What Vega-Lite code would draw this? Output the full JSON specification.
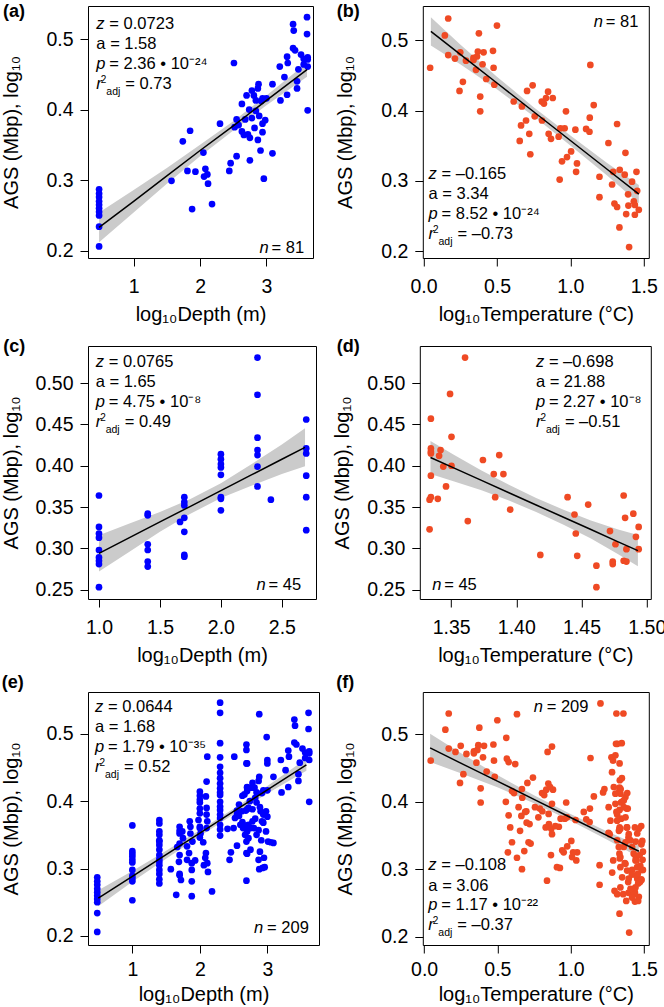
{
"$schema": "https://vega.github.io/schema/vega-lite/v6.json",
"padding": {"left": 0, "top": 2, "right": 0, "bottom": 0},
"spacing": 12,
"datasets": {
"depth": [
{"set":"A","x":0.48,"y":0.287},{"set":"A","x":0.48,"y":0.281},{"set":"A","x":0.48,"y":0.276},{"set":"A","x":0.48,"y":0.270},{"set":"A","x":0.48,"y":0.265},{"set":"A","x":0.48,"y":0.260},{"set":"A","x":0.48,"y":0.255},{"set":"A","x":0.48,"y":0.250},{"set":"A","x":0.48,"y":0.234},{"set":"A","x":0.48,"y":0.206},
{"set":"A","x":1.57,"y":0.299},{"set":"A","x":1.74,"y":0.355},{"set":"A","x":1.85,"y":0.370},{"set":"A","x":1.81,"y":0.313},{"set":"A","x":1.88,"y":0.259},{"set":"A","x":1.93,"y":0.312},{"set":"A","x":2.05,"y":0.339},{"set":"A","x":2.08,"y":0.316},{"set":"A","x":2.06,"y":0.305},{"set":"A","x":2.11,"y":0.308},
{"set":"A","x":2.12,"y":0.295},{"set":"A","x":2.18,"y":0.266},{"set":"A","x":2.30,"y":0.380},{"set":"A","x":2.44,"y":0.313},{"set":"A","x":2.46,"y":0.324},{"set":"A","x":2.51,"y":0.466},{"set":"A","x":2.55,"y":0.386},{"set":"A","x":2.55,"y":0.334},{"set":"A","x":2.52,"y":0.375},{"set":"A","x":2.58,"y":0.378},
{"set":"A","x":2.63,"y":0.369},{"set":"A","x":2.66,"y":0.364},{"set":"A","x":2.72,"y":0.365},{"set":"A","x":2.75,"y":0.360},{"set":"A","x":2.63,"y":0.408},{"set":"A","x":2.70,"y":0.420},{"set":"A","x":2.74,"y":0.400},{"set":"A","x":2.78,"y":0.427},{"set":"A","x":2.81,"y":0.420},{"set":"A","x":2.84,"y":0.413},
{"set":"A","x":2.88,"y":0.436},{"set":"A","x":2.87,"y":0.430},{"set":"A","x":2.92,"y":0.412},{"set":"A","x":2.94,"y":0.416},{"set":"A","x":2.89,"y":0.391},{"set":"A","x":2.82,"y":0.374},{"set":"A","x":2.87,"y":0.357},{"set":"A","x":2.75,"y":0.328},{"set":"A","x":2.91,"y":0.342},{"set":"A","x":2.94,"y":0.380},
{"set":"A","x":2.98,"y":0.385},{"set":"A","x":2.94,"y":0.368},{"set":"A","x":2.96,"y":0.302},{"set":"A","x":3.09,"y":0.338},{"set":"A","x":3.09,"y":0.436},{"set":"A","x":3.00,"y":0.416},{"set":"A","x":3.20,"y":0.461},{"set":"A","x":3.21,"y":0.413},{"set":"A","x":3.27,"y":0.446},{"set":"A","x":3.31,"y":0.475},
{"set":"A","x":3.32,"y":0.466},{"set":"A","x":3.31,"y":0.421},{"set":"A","x":3.40,"y":0.521},{"set":"A","x":3.41,"y":0.512},{"set":"A","x":3.40,"y":0.487},{"set":"A","x":3.43,"y":0.484},{"set":"A","x":3.46,"y":0.440},{"set":"A","x":3.46,"y":0.430},{"set":"A","x":3.48,"y":0.457},{"set":"A","x":3.52,"y":0.478},
{"set":"A","x":3.56,"y":0.472},{"set":"A","x":3.56,"y":0.464},{"set":"A","x":3.61,"y":0.531},{"set":"A","x":3.61,"y":0.507},{"set":"A","x":3.62,"y":0.474},{"set":"A","x":3.62,"y":0.471},{"set":"A","x":3.62,"y":0.461},{"set":"A","x":3.62,"y":0.399},{"set":"A","x":2.68,"y":0.386},{"set":"A","x":2.78,"y":0.388},
{"set":"A","x":2.84,"y":0.398},
{"set":"C","x":1.0,"y":0.364},{"set":"C","x":1.0,"y":0.326},{"set":"C","x":1.0,"y":0.318},{"set":"C","x":1.0,"y":0.313},{"set":"C","x":1.0,"y":0.298},{"set":"C","x":1.0,"y":0.289},{"set":"C","x":1.0,"y":0.285},{"set":"C","x":1.0,"y":0.281},{"set":"C","x":1.0,"y":0.253},
{"set":"C","x":1.4,"y":0.342},{"set":"C","x":1.4,"y":0.340},{"set":"C","x":1.4,"y":0.305},{"set":"C","x":1.4,"y":0.298},{"set":"C","x":1.4,"y":0.284},{"set":"C","x":1.4,"y":0.278},
{"set":"C","x":1.7,"y":0.362},{"set":"C","x":1.7,"y":0.356},{"set":"C","x":1.7,"y":0.352},{"set":"C","x":1.7,"y":0.337},{"set":"C","x":1.7,"y":0.320},{"set":"C","x":1.7,"y":0.292},{"set":"C","x":1.7,"y":0.290},{"set":"C","x":1.665,"y":0.332},
{"set":"C","x":2.0,"y":0.414},{"set":"C","x":2.0,"y":0.408},{"set":"C","x":2.0,"y":0.402},{"set":"C","x":2.0,"y":0.398},{"set":"C","x":2.0,"y":0.389},{"set":"C","x":2.0,"y":0.362},{"set":"C","x":2.0,"y":0.360},{"set":"C","x":2.0,"y":0.346},
{"set":"C","x":2.3,"y":0.531},{"set":"C","x":2.3,"y":0.486},{"set":"C","x":2.3,"y":0.434},{"set":"C","x":2.3,"y":0.419},{"set":"C","x":2.3,"y":0.413},{"set":"C","x":2.3,"y":0.399},{"set":"C","x":2.3,"y":0.375},{"set":"C","x":2.41,"y":0.359},
{"set":"C","x":2.7,"y":0.456},{"set":"C","x":2.7,"y":0.421},{"set":"C","x":2.7,"y":0.415},{"set":"C","x":2.7,"y":0.388},{"set":"C","x":2.7,"y":0.362},{"set":"C","x":2.7,"y":0.322},
{"set":"E","x":1.4,"y":0.367},{"set":"E","x":1.4,"y":0.355},{"set":"E","x":1.4,"y":0.335},{"set":"E","x":1.4,"y":0.328},{"set":"E","x":1.4,"y":0.320},{"set":"E","x":1.4,"y":0.314},{"set":"E","x":1.4,"y":0.310},{"set":"E","x":1.4,"y":0.292},
{"set":"E","x":1.65,"y":0.261},{"set":"E","x":1.72,"y":0.283},{"set":"E","x":1.69,"y":0.310},{"set":"E","x":1.75,"y":0.345},
{"set":"E","x":1.86,"y":0.362},{"set":"E","x":1.86,"y":0.352},{"set":"E","x":1.89,"y":0.340},{"set":"E","x":1.81,"y":0.333},{"set":"E","x":1.84,"y":0.323},{"set":"E","x":1.88,"y":0.308},{"set":"E","x":1.88,"y":0.298},{"set":"E","x":1.88,"y":0.281},
{"set":"E","x":2.0,"y":0.382},{"set":"E","x":2.01,"y":0.352},{"set":"E","x":1.98,"y":0.372},
{"set":"E","x":2.11,"y":0.466},{"set":"E","x":2.10,"y":0.429},{"set":"E","x":2.09,"y":0.407},{"set":"E","x":2.10,"y":0.390},{"set":"E","x":2.10,"y":0.380},{"set":"E","x":2.11,"y":0.370},{"set":"E","x":2.10,"y":0.360},{"set":"E","x":2.09,"y":0.323},
{"set":"E","x":2.3,"y":0.546},{"set":"E","x":2.3,"y":0.465},{"set":"E","x":2.3,"y":0.451},{"set":"E","x":2.3,"y":0.442},{"set":"E","x":2.3,"y":0.426},{"set":"E","x":2.3,"y":0.409},{"set":"E","x":2.3,"y":0.392},{"set":"E","x":2.3,"y":0.365},{"set":"E","x":2.3,"y":0.349},
{"set":"E","x":2.69,"y":0.484},{"set":"E","x":2.69,"y":0.476},{"set":"E","x":2.69,"y":0.456},{"set":"E","x":2.69,"y":0.340},{"set":"E","x":2.69,"y":0.323},{"set":"E","x":2.69,"y":0.282},{"set":"E","x":2.67,"y":0.350},{"set":"E","x":2.72,"y":0.345},{"set":"E","x":2.70,"y":0.355},
{"set":"E","x":2.88,"y":0.529},{"set":"E","x":2.87,"y":0.313},{"set":"E","x":2.88,"y":0.299},{"set":"E","x":2.93,"y":0.301},{"set":"E","x":2.89,"y":0.325},{"set":"E","x":2.95,"y":0.316},{"set":"E","x":2.98,"y":0.355},{"set":"E","x":3.0,"y":0.377},{"set":"E","x":2.99,"y":0.495},{"set":"E","x":3.0,"y":0.461},{"set":"E","x":3.0,"y":0.456},{"set":"E","x":3.01,"y":0.340},{"set":"E","x":3.05,"y":0.339},
{"set":"E","x":2.58,"y":0.395},{"set":"E","x":2.62,"y":0.385},{"set":"E","x":2.66,"y":0.41},{"set":"E","x":2.72,"y":0.39},{"set":"E","x":2.78,"y":0.37},{"set":"E","x":2.80,"y":0.36},{"set":"E","x":2.84,"y":0.35},{"set":"E","x":2.76,"y":0.42},{"set":"E","x":2.82,"y":0.405},{"set":"E","x":2.90,"y":0.385},{"set":"E","x":2.92,"y":0.37},{"set":"E","x":2.55,"y":0.38},{"set":"E","x":2.60,"y":0.365},{"set":"E","x":2.64,"y":0.36},{"set":"E","x":2.50,"y":0.36},
{"set":"E","x":1.0,"y":0.309},{"set":"E","x":1.0,"y":0.322},{"set":"E","x":1.4,"y":0.350},{"set":"E","x":1.4,"y":0.372},{"set":"E","x":2.3,"y":0.358},{"set":"E","x":2.3,"y":0.387}
],
"temp": [
{"set":"B","x":0.045,"y":0.461},{"set":"B","x":0.145,"y":0.507},{"set":"B","x":0.168,"y":0.531},{"set":"B","x":0.168,"y":0.479},{"set":"B","x":0.214,"y":0.474},{"set":"B","x":0.25,"y":0.483},{"set":"B","x":0.245,"y":0.428},{"set":"B","x":0.268,"y":0.441},{"set":"B","x":0.289,"y":0.471},{"set":"B","x":0.377,"y":0.510},
{"set":"B","x":0.34,"y":0.475},{"set":"B","x":0.364,"y":0.477},{"set":"B","x":0.37,"y":0.484},{"set":"B","x":0.357,"y":0.458},{"set":"B","x":0.386,"y":0.420},{"set":"B","x":0.386,"y":0.399},{"set":"B","x":0.402,"y":0.466},{"set":"B","x":0.409,"y":0.483},{"set":"B","x":0.427,"y":0.445},{"set":"B","x":0.473,"y":0.485},
{"set":"B","x":0.477,"y":0.461},{"set":"B","x":0.482,"y":0.437},{"set":"B","x":0.50,"y":0.521},{"set":"B","x":0.614,"y":0.413},{"set":"B","x":0.664,"y":0.379},{"set":"B","x":0.655,"y":0.357},{"set":"B","x":0.67,"y":0.406},{"set":"B","x":0.698,"y":0.386},{"set":"B","x":0.705,"y":0.428},{"set":"B","x":0.72,"y":0.367},
{"set":"B","x":0.727,"y":0.338},{"set":"B","x":0.743,"y":0.436},{"set":"B","x":0.757,"y":0.392},{"set":"B","x":0.805,"y":0.413},{"set":"B","x":0.807,"y":0.386},{"set":"B","x":0.82,"y":0.41},{"set":"B","x":0.834,"y":0.418},{"set":"B","x":0.848,"y":0.427},{"set":"B","x":0.852,"y":0.367},{"set":"B","x":0.868,"y":0.360},
{"set":"B","x":0.88,"y":0.418},{"set":"B","x":0.92,"y":0.363},{"set":"B","x":0.932,"y":0.375},{"set":"B","x":0.943,"y":0.328},{"set":"B","x":0.927,"y":0.302},{"set":"B","x":0.961,"y":0.375},{"set":"B","x":0.97,"y":0.399},{"set":"B","x":0.977,"y":0.334},{"set":"B","x":1.005,"y":0.342},{"set":"B","x":1.034,"y":0.373},
{"set":"B","x":1.039,"y":0.313},{"set":"B","x":1.045,"y":0.325},{"set":"B","x":1.107,"y":0.374},{"set":"B","x":1.13,"y":0.370},{"set":"B","x":1.132,"y":0.390},{"set":"B","x":1.136,"y":0.465},{"set":"B","x":1.159,"y":0.408},{"set":"B","x":1.198,"y":0.306},{"set":"B","x":1.198,"y":0.277},{"set":"B","x":1.259,"y":0.354},
{"set":"B","x":1.284,"y":0.295},{"set":"B","x":1.291,"y":0.313},{"set":"B","x":1.30,"y":0.268},{"set":"B","x":1.318,"y":0.263},{"set":"B","x":1.318,"y":0.381},{"set":"B","x":1.336,"y":0.316},{"set":"B","x":1.334,"y":0.234},{"set":"B","x":1.37,"y":0.309},{"set":"B","x":1.375,"y":0.340},{"set":"B","x":1.38,"y":0.253},
{"set":"B","x":1.395,"y":0.265},{"set":"B","x":1.40,"y":0.206},{"set":"B","x":1.42,"y":0.299},{"set":"B","x":1.432,"y":0.271},{"set":"B","x":1.439,"y":0.266},{"set":"B","x":1.439,"y":0.252},{"set":"B","x":1.45,"y":0.313},{"set":"B","x":1.455,"y":0.286},{"set":"B","x":1.466,"y":0.259},{"set":"B","x":1.393,"y":0.281},
{"set":"B","x":0.34,"y":0.472},
{"set":"D","x":1.3607,"y":0.531},{"set":"D","x":1.3492,"y":0.487},{"set":"D","x":1.3345,"y":0.457},{"set":"D","x":1.3345,"y":0.421},{"set":"D","x":1.3345,"y":0.417},{"set":"D","x":1.3345,"y":0.415},{"set":"D","x":1.3419,"y":0.419},{"set":"D","x":1.3408,"y":0.412},{"set":"D","x":1.3503,"y":0.435},{"set":"D","x":1.3440,"y":0.399},
{"set":"D","x":1.3503,"y":0.400},{"set":"D","x":1.3345,"y":0.388},{"set":"D","x":1.3461,"y":0.375},{"set":"D","x":1.3345,"y":0.362},{"set":"D","x":1.3335,"y":0.359},{"set":"D","x":1.3398,"y":0.360},{"set":"D","x":1.3335,"y":0.323},{"set":"D","x":1.3628,"y":0.333},{"set":"D","x":1.3744,"y":0.407},{"set":"D","x":1.3827,"y":0.390},
{"set":"D","x":1.3869,"y":0.413},{"set":"D","x":1.3901,"y":0.390},{"set":"D","x":1.3838,"y":0.362},{"set":"D","x":1.3953,"y":0.347},{"set":"D","x":1.4184,"y":0.292},{"set":"D","x":1.4393,"y":0.362},{"set":"D","x":1.4446,"y":0.341},{"set":"D","x":1.4456,"y":0.318},{"set":"D","x":1.4467,"y":0.291},{"set":"D","x":1.4551,"y":0.353},
{"set":"D","x":1.4614,"y":0.279},{"set":"D","x":1.4614,"y":0.253},{"set":"D","x":1.4718,"y":0.321},{"set":"D","x":1.4739,"y":0.284},{"set":"D","x":1.4739,"y":0.281},{"set":"D","x":1.4760,"y":0.305},{"set":"D","x":1.4823,"y":0.364},{"set":"D","x":1.4834,"y":0.337},{"set":"D","x":1.4823,"y":0.285},{"set":"D","x":1.4844,"y":0.284},
{"set":"D","x":1.4844,"y":0.299},{"set":"D","x":1.4897,"y":0.342},{"set":"D","x":1.4917,"y":0.314},{"set":"D","x":1.4938,"y":0.299},{"set":"D","x":1.4938,"y":0.326},
{"set":"F","x":0.561,"y":0.495},{"set":"F","x":0.565,"y":0.464},{"set":"F","x":0.577,"y":0.459},{"set":"F","x":0.622,"y":0.456},{"set":"F","x":0.634,"y":0.530},{"set":"F","x":0.60,"y":0.416},{"set":"F","x":0.558,"y":0.400},{"set":"F","x":0.577,"y":0.380},{"set":"F","x":0.588,"y":0.362},{"set":"F","x":0.60,"y":0.340},
{"set":"F","x":0.572,"y":0.325},{"set":"F","x":0.634,"y":0.317},{"set":"F","x":0.668,"y":0.300},{"set":"F","x":0.684,"y":0.327},{"set":"F","x":0.70,"y":0.369},{"set":"F","x":0.69,"y":0.385},{"set":"F","x":0.713,"y":0.340},{"set":"F","x":0.645,"y":0.392},{"set":"F","x":0.668,"y":0.419},{"set":"F","x":0.78,"y":0.377},
{"set":"F","x":0.79,"y":0.39},{"set":"F","x":0.83,"y":0.362},{"set":"F","x":0.839,"y":0.283},{"set":"F","x":0.843,"y":0.474},{"set":"F","x":0.873,"y":0.482},{"set":"F","x":0.86,"y":0.422},{"set":"F","x":0.873,"y":0.397},{"set":"F","x":0.85,"y":0.382},{"set":"F","x":0.873,"y":0.352},{"set":"F","x":0.866,"y":0.321},
{"set":"F","x":0.896,"y":0.364},{"set":"F","x":0.907,"y":0.303},{"set":"F","x":0.953,"y":0.325},{"set":"F","x":0.976,"y":0.377},{"set":"F","x":1.01,"y":0.318},{"set":"F","x":1.017,"y":0.325},{"set":"F","x":1.09,"y":0.385},{"set":"F","x":1.222,"y":0.414},{"set":"F","x":1.231,"y":0.419},{"set":"F","x":1.26,"y":0.392},
{"set":"F","x":1.272,"y":0.372},{"set":"F","x":1.267,"y":0.352},{"set":"F","x":1.283,"y":0.444},{"set":"F","x":1.279,"y":0.466},{"set":"F","x":1.29,"y":0.461},{"set":"F","x":1.306,"y":0.469},{"set":"F","x":1.31,"y":0.486},{"set":"F","x":1.32,"y":0.486},{"set":"F","x":1.313,"y":0.531},{"set":"F","x":1.204,"y":0.546},
{"set":"F","x":1.295,"y":0.422},{"set":"F","x":1.306,"y":0.412},{"set":"F","x":1.306,"y":0.397},{"set":"F","x":1.313,"y":0.385},{"set":"F","x":1.318,"y":0.372},{"set":"F","x":1.33,"y":0.357},{"set":"F","x":1.318,"y":0.343},{"set":"F","x":1.329,"y":0.333},{"set":"F","x":1.34,"y":0.318},{"set":"F","x":1.34,"y":0.303},
{"set":"F","x":1.352,"y":0.288},{"set":"F","x":1.34,"y":0.273},{"set":"F","x":1.359,"y":0.263},{"set":"F","x":1.336,"y":0.432},{"set":"F","x":1.363,"y":0.402},{"set":"F","x":1.363,"y":0.392},{"set":"F","x":1.375,"y":0.377},{"set":"F","x":1.386,"y":0.362},{"set":"F","x":1.397,"y":0.352},{"set":"F","x":1.409,"y":0.343},
{"set":"F","x":1.42,"y":0.333},{"set":"F","x":1.431,"y":0.323},{"set":"F","x":1.443,"y":0.313},{"set":"F","x":1.454,"y":0.303},{"set":"F","x":1.459,"y":0.293},{"set":"F","x":1.443,"y":0.273},{"set":"F","x":1.431,"y":0.263},{"set":"F","x":1.375,"y":0.308},{"set":"F","x":1.386,"y":0.298},{"set":"F","x":1.397,"y":0.286},
{"set":"F","x":1.409,"y":0.271},{"set":"F","x":1.42,"y":0.258},{"set":"F","x":1.466,"y":0.36}
],
"fit": [
{"set":"a","x":0.48,"y":0.233,"lo":0.212,"hi":0.254},{"set":"a","x":1.0,"y":0.270,"lo":0.254,"hi":0.286},{"set":"a","x":1.5,"y":0.306,"lo":0.295,"hi":0.317},{"set":"a","x":2.0,"y":0.342,"lo":0.334,"hi":0.350},{"set":"a","x":2.5,"y":0.377,"lo":0.3705,"hi":0.3835},{"set":"a","x":3.0,"y":0.413,"lo":0.406,"hi":0.420},{"set":"a","x":3.61,"y":0.4565,"lo":0.4465,"hi":0.4665},
{"set":"b","x":0.05,"y":0.5128,"lo":0.4928,"hi":0.5328},{"set":"b","x":0.25,"y":0.4801,"lo":0.4661,"hi":0.4941},{"set":"b","x":0.5,"y":0.4393,"lo":0.4303,"hi":0.4483},{"set":"b","x":0.75,"y":0.3984,"lo":0.3919,"hi":0.4049},{"set":"b","x":1.0,"y":0.3576,"lo":0.3506,"hi":0.3646},{"set":"b","x":1.25,"y":0.3167,"lo":0.3077,"hi":0.3257},{"set":"b","x":1.466,"y":0.2814,"lo":0.2684,"hi":0.2944},
{"set":"c","x":1.0,"y":0.294,"lo":0.272,"hi":0.316},{"set":"c","x":1.25,"y":0.313,"lo":0.296,"hi":0.330},{"set":"c","x":1.5,"y":0.332,"lo":0.320,"hi":0.344},{"set":"c","x":1.75,"y":0.3509,"lo":0.3419,"hi":0.3599},{"set":"c","x":2.0,"y":0.3699,"lo":0.3609,"hi":0.3789},{"set":"c","x":2.25,"y":0.3889,"lo":0.3759,"hi":0.4019},{"set":"c","x":2.5,"y":0.4079,"lo":0.3899,"hi":0.4259},{"set":"c","x":2.69,"y":0.4223,"lo":0.3993,"hi":0.4453},
{"set":"d","x":1.3342,"y":0.410,"lo":0.390,"hi":0.430},{"set":"d","x":1.3524,"y":0.3971,"lo":0.3811,"hi":0.4131},{"set":"d","x":1.3733,"y":0.3823,"lo":0.3703,"hi":0.3943},{"set":"d","x":1.3943,"y":0.3674,"lo":0.3579,"hi":0.3769},{"set":"d","x":1.4152,"y":0.3525,"lo":0.344,"hi":0.361},{"set":"d","x":1.4362,"y":0.3377,"lo":0.3287,"hi":0.3467},{"set":"d","x":1.4572,"y":0.3228,"lo":0.3118,"hi":0.3338},{"set":"d","x":1.4781,"y":0.3079,"lo":0.2929,"hi":0.3229},{"set":"d","x":1.4932,"y":0.2972,"lo":0.2782,"hi":0.3162},
{"set":"e","x":0.496,"y":0.256,"lo":0.244,"hi":0.268},{"set":"e","x":1.0,"y":0.2884,"lo":0.2804,"hi":0.2964},{"set":"e","x":1.5,"y":0.3205,"lo":0.3145,"hi":0.3265},{"set":"e","x":2.0,"y":0.3526,"lo":0.3481,"hi":0.3571},{"set":"e","x":2.5,"y":0.3847,"lo":0.3807,"hi":0.3887},{"set":"e","x":3.0,"y":0.4168,"lo":0.4113,"hi":0.4223},{"set":"e","x":3.578,"y":0.4539,"lo":0.4449,"hi":0.4629},
{"set":"f","x":0.041,"y":0.480,"lo":0.459,"hi":0.501},{"set":"f","x":0.25,"y":0.4575,"lo":0.4425,"hi":0.4725},{"set":"f","x":0.5,"y":0.4306,"lo":0.4216,"hi":0.4396},{"set":"f","x":0.75,"y":0.4037,"lo":0.3977,"hi":0.4097},{"set":"f","x":1.0,"y":0.3768,"lo":0.3718,"hi":0.3818},{"set":"f","x":1.25,"y":0.3499,"lo":0.3439,"hi":0.3559},{"set":"f","x":1.466,"y":0.3267,"lo":0.3177,"hi":0.3357}
]
},
"vconcat": [
{"spacing": 20.8, "hconcat": [
{
"width": 225, "height": 252,
"layer": [
{"data": {"name": "fit"}, "transform": [{"filter": {"field": "set", "equal": "a"}}], "mark": "area",
 "encoding": {"x": {"field": "x", "type": "quantitative", "scale": {"domain": [0.313, 3.7], "nice": false, "zero": false}, "axis": {"values": [1, 2, 3], "format": ".0f", "title": "log₁₀Depth (m)"}},
 "y": {"field": "lo", "type": "quantitative", "scale": {"domain": [0.1896, 0.5468], "nice": false, "zero": false}, "axis": {"values": [0.2, 0.3, 0.4, 0.5], "format": ".1f", "title": "AGS (Mbp),  log₁₀"}},
 "y2": {"field": "hi"}}},
{"data": {"name": "depth"}, "transform": [{"filter": {"field": "set", "equal": "A"}}], "mark": {"type": "circle", "color": "#0000ff"},
 "encoding": {"x": {"field": "x", "type": "quantitative"}, "y": {"field": "y", "type": "quantitative"}}},
{"data": {"name": "fit"}, "transform": [{"filter": {"field": "set", "equal": "a"}}], "mark": "line",
 "encoding": {"x": {"field": "x", "type": "quantitative"}, "y": {"field": "y", "type": "quantitative"}}},
{"data": {"values": [{}]}, "layer": [
 {"mark": {"type": "text", "fontWeight": "bold", "fontSize": 18}, "encoding": {"x": {"datum": -0.965}, "y": {"datum": 0.5308}, "text": {"value": "(a)"}}},
 {"mark": {"type": "text", "fontStyle": "italic"}, "encoding": {"x": {"datum": 0.439}, "y": {"datum": 0.5148}, "text": {"value": "z"}}},
 {"mark": {"type": "text", "dx": 13}, "encoding": {"x": {"datum": 0.439}, "y": {"datum": 0.5148}, "text": {"value": "= 0.0723"}}},
 {"mark": {"type": "text"}, "encoding": {"x": {"datum": 0.439}, "y": {"datum": 0.4858}, "text": {"value": "a = 1.58"}}},
 {"mark": {"type": "text", "fontStyle": "italic"}, "encoding": {"x": {"datum": 0.439}, "y": {"datum": 0.4570}, "text": {"value": "p"}}},
 {"mark": {"type": "text", "dx": 13}, "encoding": {"x": {"datum": 0.439}, "y": {"datum": 0.4570}, "text": {"value": "= 2.36 • 10⁻²⁴"}}},
 {"mark": {"type": "text", "fontStyle": "italic"}, "encoding": {"x": {"datum": 0.439}, "y": {"datum": 0.4285}, "text": {"value": "r"}}},
 {"mark": {"type": "text", "dx": 4.5, "dy": -6, "fontSize": 10}, "encoding": {"x": {"datum": 0.439}, "y": {"datum": 0.4285}, "text": {"value": "2"}}},
 {"mark": {"type": "text", "dx": 10, "dy": 6, "fontSize": 10.5}, "encoding": {"x": {"datum": 0.439}, "y": {"datum": 0.4285}, "text": {"value": "adj"}}},
 {"mark": {"type": "text", "dx": 29}, "encoding": {"x": {"datum": 0.439}, "y": {"datum": 0.4285}, "text": {"value": "= 0.73"}}},
 {"mark": {"type": "text", "fontStyle": "italic"}, "encoding": {"x": {"datum": 2.895}, "y": {"datum": 0.1965}, "text": {"value": "n"}}},
 {"mark": {"type": "text", "dx": 12}, "encoding": {"x": {"datum": 2.895}, "y": {"datum": 0.1965}, "text": {"value": "= 81"}}}
]}
]
},
{
"width": 226, "height": 252,
"layer": [
{"data": {"name": "fit"}, "transform": [{"filter": {"field": "set", "equal": "b"}}], "mark": "area",
 "encoding": {"x": {"field": "x", "type": "quantitative", "scale": {"domain": [-0.005, 1.534], "nice": false, "zero": false}, "axis": {"values": [0, 0.5, 1, 1.5], "format": ".1f", "title": "log₁₀Temperature (°C)"}},
 "y": {"field": "lo", "type": "quantitative", "scale": {"domain": [0.1905, 0.5488], "nice": false, "zero": false}, "axis": {"values": [0.2, 0.3, 0.4, 0.5], "format": ".1f", "title": "AGS (Mbp),  log₁₀"}},
 "y2": {"field": "hi"}}},
{"data": {"name": "temp"}, "transform": [{"filter": {"field": "set", "equal": "B"}}], "mark": {"type": "circle", "color": "#ef4a24"},
 "encoding": {"x": {"field": "x", "type": "quantitative"}, "y": {"field": "y", "type": "quantitative"}}},
{"data": {"name": "fit"}, "transform": [{"filter": {"field": "set", "equal": "b"}}], "mark": "line",
 "encoding": {"x": {"field": "x", "type": "quantitative"}, "y": {"field": "y", "type": "quantitative"}}},
{"data": {"values": [{}]}, "layer": [
 {"mark": {"type": "text", "fontWeight": "bold", "fontSize": 18}, "encoding": {"x": {"datum": -0.591}, "y": {"datum": 0.5327}, "text": {"value": "(b)"}}},
 {"mark": {"type": "text", "fontStyle": "italic"}, "encoding": {"x": {"datum": 0.034}, "y": {"datum": 0.3028}, "text": {"value": "z"}}},
 {"mark": {"type": "text", "dx": 13}, "encoding": {"x": {"datum": 0.034}, "y": {"datum": 0.3028}, "text": {"value": "= –0.165"}}},
 {"mark": {"type": "text"}, "encoding": {"x": {"datum": 0.034}, "y": {"datum": 0.2743}, "text": {"value": "a = 3.34"}}},
 {"mark": {"type": "text", "fontStyle": "italic"}, "encoding": {"x": {"datum": 0.034}, "y": {"datum": 0.2459}, "text": {"value": "p"}}},
 {"mark": {"type": "text", "dx": 13}, "encoding": {"x": {"datum": 0.034}, "y": {"datum": 0.2459}, "text": {"value": "= 8.52 • 10⁻²⁴"}}},
 {"mark": {"type": "text", "fontStyle": "italic"}, "encoding": {"x": {"datum": 0.034}, "y": {"datum": 0.218}, "text": {"value": "r"}}},
 {"mark": {"type": "text", "dx": 4.5, "dy": -6, "fontSize": 10}, "encoding": {"x": {"datum": 0.034}, "y": {"datum": 0.218}, "text": {"value": "2"}}},
 {"mark": {"type": "text", "dx": 10, "dy": 6, "fontSize": 10.5}, "encoding": {"x": {"datum": 0.034}, "y": {"datum": 0.218}, "text": {"value": "adj"}}},
 {"mark": {"type": "text", "dx": 29}, "encoding": {"x": {"datum": 0.034}, "y": {"datum": 0.218}, "text": {"value": "= –0.73"}}},
 {"mark": {"type": "text", "fontStyle": "italic"}, "encoding": {"x": {"datum": 1.159}, "y": {"datum": 0.5185}, "text": {"value": "n"}}},
 {"mark": {"type": "text", "dx": 12}, "encoding": {"x": {"datum": 1.159}, "y": {"datum": 0.5185}, "text": {"value": "= 81"}}}
]}
]
}
]},
{"spacing": 7, "vconcat": [
{"spacing": 14.8, "hconcat": [
{
"width": 228, "height": 253,
"layer": [
{"data": {"name": "fit"}, "transform": [{"filter": {"field": "set", "equal": "c"}}], "mark": "area",
 "encoding": {"x": {"field": "x", "type": "quantitative", "scale": {"domain": [0.91, 2.78], "nice": false, "zero": false}, "axis": {"values": [1, 1.5, 2, 2.5], "format": ".1f", "title": "log₁₀Depth (m)"}},
 "y": {"field": "lo", "type": "quantitative", "scale": {"domain": [0.2387, 0.545], "nice": false, "zero": false}, "axis": {"values": [0.25, 0.3, 0.35, 0.4, 0.45, 0.5], "format": ".2f", "title": "AGS (Mbp),  log₁₀"}},
 "y2": {"field": "hi"}}},
{"data": {"name": "depth"}, "transform": [{"filter": {"field": "set", "equal": "C"}}], "mark": {"type": "circle", "color": "#0000ff"},
 "encoding": {"x": {"field": "x", "type": "quantitative"}, "y": {"field": "y", "type": "quantitative"}}},
{"data": {"name": "fit"}, "transform": [{"filter": {"field": "set", "equal": "c"}}], "mark": "line",
 "encoding": {"x": {"field": "x", "type": "quantitative"}, "y": {"field": "y", "type": "quantitative"}}},
{"data": {"values": [{}]}, "layer": [
 {"mark": {"type": "text", "fontWeight": "bold", "fontSize": 18}, "encoding": {"x": {"datum": 0.2144}, "y": {"datum": 0.5373}, "text": {"value": "(c)"}}},
 {"mark": {"type": "text", "fontStyle": "italic"}, "encoding": {"x": {"datum": 0.973}, "y": {"datum": 0.5201}, "text": {"value": "z"}}},
 {"mark": {"type": "text", "dx": 13}, "encoding": {"x": {"datum": 0.973}, "y": {"datum": 0.5201}, "text": {"value": "= 0.0765"}}},
 {"mark": {"type": "text"}, "encoding": {"x": {"datum": 0.973}, "y": {"datum": 0.4959}, "text": {"value": "a = 1.65"}}},
 {"mark": {"type": "text", "fontStyle": "italic"}, "encoding": {"x": {"datum": 0.973}, "y": {"datum": 0.4713}, "text": {"value": "p"}}},
 {"mark": {"type": "text", "dx": 13}, "encoding": {"x": {"datum": 0.973}, "y": {"datum": 0.4713}, "text": {"value": "= 4.75 • 10⁻⁸"}}},
 {"mark": {"type": "text", "fontStyle": "italic"}, "encoding": {"x": {"datum": 0.973}, "y": {"datum": 0.4475}, "text": {"value": "r"}}},
 {"mark": {"type": "text", "dx": 4.5, "dy": -6, "fontSize": 10}, "encoding": {"x": {"datum": 0.973}, "y": {"datum": 0.4475}, "text": {"value": "2"}}},
 {"mark": {"type": "text", "dx": 10, "dy": 6, "fontSize": 10.5}, "encoding": {"x": {"datum": 0.973}, "y": {"datum": 0.4475}, "text": {"value": "adj"}}},
 {"mark": {"type": "text", "dx": 29}, "encoding": {"x": {"datum": 0.973}, "y": {"datum": 0.4475}, "text": {"value": "= 0.49"}}},
 {"mark": {"type": "text", "fontStyle": "italic"}, "encoding": {"x": {"datum": 2.293}, "y": {"datum": 0.2496}, "text": {"value": "n"}}},
 {"mark": {"type": "text", "dx": 12}, "encoding": {"x": {"datum": 2.293}, "y": {"datum": 0.2496}, "text": {"value": "= 45"}}}
]}
]
},
{
"width": 231, "height": 253,
"layer": [
{"data": {"name": "fit"}, "transform": [{"filter": {"field": "set", "equal": "d"}}], "mark": "area",
 "encoding": {"x": {"field": "x", "type": "quantitative", "scale": {"domain": [1.326, 1.5031], "nice": false, "zero": false}, "axis": {"values": [1.35, 1.4, 1.45, 1.5], "format": ".2f", "title": "log₁₀Temperature (°C)"}},
 "y": {"field": "lo", "type": "quantitative", "scale": {"domain": [0.2387, 0.545], "nice": false, "zero": false}, "axis": {"values": [0.25, 0.3, 0.35, 0.4, 0.45, 0.5], "format": ".2f", "title": "AGS (Mbp),  log₁₀"}},
 "y2": {"field": "hi"}}},
{"data": {"name": "temp"}, "transform": [{"filter": {"field": "set", "equal": "D"}}], "mark": {"type": "circle", "color": "#ef4a24"},
 "encoding": {"x": {"field": "x", "type": "quantitative"}, "y": {"field": "y", "type": "quantitative"}}},
{"data": {"name": "fit"}, "transform": [{"filter": {"field": "set", "equal": "d"}}], "mark": "line",
 "encoding": {"x": {"field": "x", "type": "quantitative"}, "y": {"field": "y", "type": "quantitative"}}},
{"data": {"values": [{}]}, "layer": [
 {"mark": {"type": "text", "fontWeight": "bold", "fontSize": 18}, "encoding": {"x": {"datum": 1.2623}, "y": {"datum": 0.5373}, "text": {"value": "(d)"}}},
 {"mark": {"type": "text", "fontStyle": "italic"}, "encoding": {"x": {"datum": 1.415}, "y": {"datum": 0.5201}, "text": {"value": "z"}}},
 {"mark": {"type": "text", "dx": 13}, "encoding": {"x": {"datum": 1.415}, "y": {"datum": 0.5201}, "text": {"value": "= –0.698"}}},
 {"mark": {"type": "text"}, "encoding": {"x": {"datum": 1.415}, "y": {"datum": 0.4959}, "text": {"value": "a = 21.88"}}},
 {"mark": {"type": "text", "fontStyle": "italic"}, "encoding": {"x": {"datum": 1.415}, "y": {"datum": 0.4713}, "text": {"value": "p"}}},
 {"mark": {"type": "text", "dx": 13}, "encoding": {"x": {"datum": 1.415}, "y": {"datum": 0.4713}, "text": {"value": "= 2.27 • 10⁻⁸"}}},
 {"mark": {"type": "text", "fontStyle": "italic"}, "encoding": {"x": {"datum": 1.415}, "y": {"datum": 0.4475}, "text": {"value": "r"}}},
 {"mark": {"type": "text", "dx": 4.5, "dy": -6, "fontSize": 10}, "encoding": {"x": {"datum": 1.415}, "y": {"datum": 0.4475}, "text": {"value": "2"}}},
 {"mark": {"type": "text", "dx": 10, "dy": 6, "fontSize": 10.5}, "encoding": {"x": {"datum": 1.415}, "y": {"datum": 0.4475}, "text": {"value": "adj"}}},
 {"mark": {"type": "text", "dx": 29}, "encoding": {"x": {"datum": 1.415}, "y": {"datum": 0.4475}, "text": {"value": "= –0.51"}}},
 {"mark": {"type": "text", "fontStyle": "italic"}, "encoding": {"x": {"datum": 1.3355}, "y": {"datum": 0.2496}, "text": {"value": "n"}}},
 {"mark": {"type": "text", "dx": 12}, "encoding": {"x": {"datum": 1.3355}, "y": {"datum": 0.2496}, "text": {"value": "= 45"}}}
]}
]
}
]},
{"spacing": 14.8, "hconcat": [
{
"width": 231, "height": 253,
"layer": [
{"data": {"name": "fit"}, "transform": [{"filter": {"field": "set", "equal": "e"}}], "mark": "area",
 "encoding": {"x": {"field": "x", "type": "quantitative", "scale": {"domain": [0.343, 3.765], "nice": false, "zero": false}, "axis": {"values": [1, 2, 3], "format": ".0f", "title": "log₁₀Depth (m)", "labelPadding": 7, "minExtent": 39, "maxExtent": 39}},
 "y": {"field": "lo", "type": "quantitative", "scale": {"domain": [0.1866, 0.5619], "nice": false, "zero": false}, "axis": {"values": [0.2, 0.3, 0.4, 0.5], "format": ".1f", "title": "AGS (Mbp),  log₁₀"}},
 "y2": {"field": "hi"}}},
{"data": {"name": "depth"}, "mark": {"type": "circle", "color": "#0000ff"},
 "encoding": {"x": {"field": "x", "type": "quantitative"}, "y": {"field": "y", "type": "quantitative"}}},
{"data": {"name": "fit"}, "transform": [{"filter": {"field": "set", "equal": "e"}}], "mark": "line",
 "encoding": {"x": {"field": "x", "type": "quantitative"}, "y": {"field": "y", "type": "quantitative"}}},
{"data": {"values": [{}]}, "layer": [
 {"mark": {"type": "text", "fontWeight": "bold", "fontSize": 18}, "encoding": {"x": {"datum": -0.935}, "y": {"datum": 0.5676}, "text": {"value": "(e)"}}},
 {"mark": {"type": "text", "fontStyle": "italic"}, "encoding": {"x": {"datum": 0.447}, "y": {"datum": 0.5316}, "text": {"value": "z"}}},
 {"mark": {"type": "text", "dx": 13}, "encoding": {"x": {"datum": 0.447}, "y": {"datum": 0.5316}, "text": {"value": "= 0.0644"}}},
 {"mark": {"type": "text"}, "encoding": {"x": {"datum": 0.447}, "y": {"datum": 0.5019}, "text": {"value": "a = 1.68"}}},
 {"mark": {"type": "text", "fontStyle": "italic"}, "encoding": {"x": {"datum": 0.447}, "y": {"datum": 0.4722}, "text": {"value": "p"}}},
 {"mark": {"type": "text", "dx": 13}, "encoding": {"x": {"datum": 0.447}, "y": {"datum": 0.4722}, "text": {"value": "= 1.79 • 10⁻³⁵"}}},
 {"mark": {"type": "text", "fontStyle": "italic"}, "encoding": {"x": {"datum": 0.447}, "y": {"datum": 0.4431}, "text": {"value": "r"}}},
 {"mark": {"type": "text", "dx": 4.5, "dy": -6, "fontSize": 10}, "encoding": {"x": {"datum": 0.447}, "y": {"datum": 0.4431}, "text": {"value": "2"}}},
 {"mark": {"type": "text", "dx": 10, "dy": 6, "fontSize": 10.5}, "encoding": {"x": {"datum": 0.447}, "y": {"datum": 0.4431}, "text": {"value": "adj"}}},
 {"mark": {"type": "text", "dx": 29}, "encoding": {"x": {"datum": 0.447}, "y": {"datum": 0.4431}, "text": {"value": "= 0.52"}}},
 {"mark": {"type": "text", "fontStyle": "italic"}, "encoding": {"x": {"datum": 2.803}, "y": {"datum": 0.2049}, "text": {"value": "n"}}},
 {"mark": {"type": "text", "dx": 13}, "encoding": {"x": {"datum": 2.803}, "y": {"datum": 0.2049}, "text": {"value": "= 209"}}}
]}
]
},
{
"width": 226, "height": 253,
"layer": [
{"data": {"name": "fit"}, "transform": [{"filter": {"field": "set", "equal": "f"}}], "mark": "area",
 "encoding": {"x": {"field": "x", "type": "quantitative", "scale": {"domain": [-0.009, 1.534], "nice": false, "zero": false}, "axis": {"values": [0, 0.5, 1, 1.5], "format": ".1f", "title": "log₁₀Temperature (°C)", "labelPadding": 7, "minExtent": 39, "maxExtent": 39}},
 "y": {"field": "lo", "type": "quantitative", "scale": {"domain": [0.1876, 0.5629], "nice": false, "zero": false}, "axis": {"values": [0.2, 0.3, 0.4, 0.5], "format": ".1f", "title": "AGS (Mbp),  log₁₀"}},
 "y2": {"field": "hi"}}},
{"data": {"name": "temp"}, "mark": {"type": "circle", "color": "#ef4a24"},
 "encoding": {"x": {"field": "x", "type": "quantitative"}, "y": {"field": "y", "type": "quantitative"}}},
{"data": {"name": "fit"}, "transform": [{"filter": {"field": "set", "equal": "f"}}], "mark": "line",
 "encoding": {"x": {"field": "x", "type": "quantitative"}, "y": {"field": "y", "type": "quantitative"}}},
{"data": {"values": [{}]}, "layer": [
 {"mark": {"type": "text", "fontWeight": "bold", "fontSize": 18}, "encoding": {"x": {"datum": -0.600}, "y": {"datum": 0.5683}, "text": {"value": "(f)"}}},
 {"mark": {"type": "text", "fontStyle": "italic"}, "encoding": {"x": {"datum": 0.029}, "y": {"datum": 0.2990}, "text": {"value": "z"}}},
 {"mark": {"type": "text", "dx": 13}, "encoding": {"x": {"datum": 0.029}, "y": {"datum": 0.2990}, "text": {"value": "= –0.108"}}},
 {"mark": {"type": "text"}, "encoding": {"x": {"datum": 0.029}, "y": {"datum": 0.2683}, "text": {"value": "a = 3.06"}}},
 {"mark": {"type": "text", "fontStyle": "italic"}, "encoding": {"x": {"datum": 0.029}, "y": {"datum": 0.2396}, "text": {"value": "p"}}},
 {"mark": {"type": "text", "dx": 13}, "encoding": {"x": {"datum": 0.029}, "y": {"datum": 0.2396}, "text": {"value": "= 1.17 • 10⁻²²"}}},
 {"mark": {"type": "text", "fontStyle": "italic"}, "encoding": {"x": {"datum": 0.029}, "y": {"datum": 0.2099}, "text": {"value": "r"}}},
 {"mark": {"type": "text", "dx": 4.5, "dy": -6, "fontSize": 10}, "encoding": {"x": {"datum": 0.029}, "y": {"datum": 0.2099}, "text": {"value": "2"}}},
 {"mark": {"type": "text", "dx": 10, "dy": 6, "fontSize": 10.5}, "encoding": {"x": {"datum": 0.029}, "y": {"datum": 0.2099}, "text": {"value": "adj"}}},
 {"mark": {"type": "text", "dx": 29}, "encoding": {"x": {"datum": 0.029}, "y": {"datum": 0.2099}, "text": {"value": "= –0.37"}}},
 {"mark": {"type": "text", "fontStyle": "italic"}, "encoding": {"x": {"datum": 0.748}, "y": {"datum": 0.5331}, "text": {"value": "n"}}},
 {"mark": {"type": "text", "dx": 13}, "encoding": {"x": {"datum": 0.748}, "y": {"datum": 0.5331}, "text": {"value": "= 209"}}}
]}
]
}
]}
]}
],
"config": {
 "font": "Liberation Sans",
 "view": {"stroke": "black", "strokeWidth": 1},
 "axis": {"domain": false, "grid": false, "tickSize": 8, "tickColor": "black", "tickWidth": 1, "labelFontSize": 19.5, "labelColor": "black", "labelFlush": false, "labelOverlap": false, "labelBound": false, "titleFontSize": 20, "titleFontWeight": "normal", "titleColor": "black"},
 "axisX": {"labelPadding": 11, "minExtent": 46, "maxExtent": 46, "titlePadding": 0},
 "axisY": {"labelPadding": 7, "minExtent": 60, "maxExtent": 60, "titlePadding": 7},
 "text": {"fontSize": 16.5, "align": "left", "baseline": "alphabetic", "color": "black"},
 "circle": {"size": 45, "opacity": 1},
 "line": {"color": "black", "strokeWidth": 1.5},
 "area": {"color": "#cbcbcb", "opacity": 1}
}
}
